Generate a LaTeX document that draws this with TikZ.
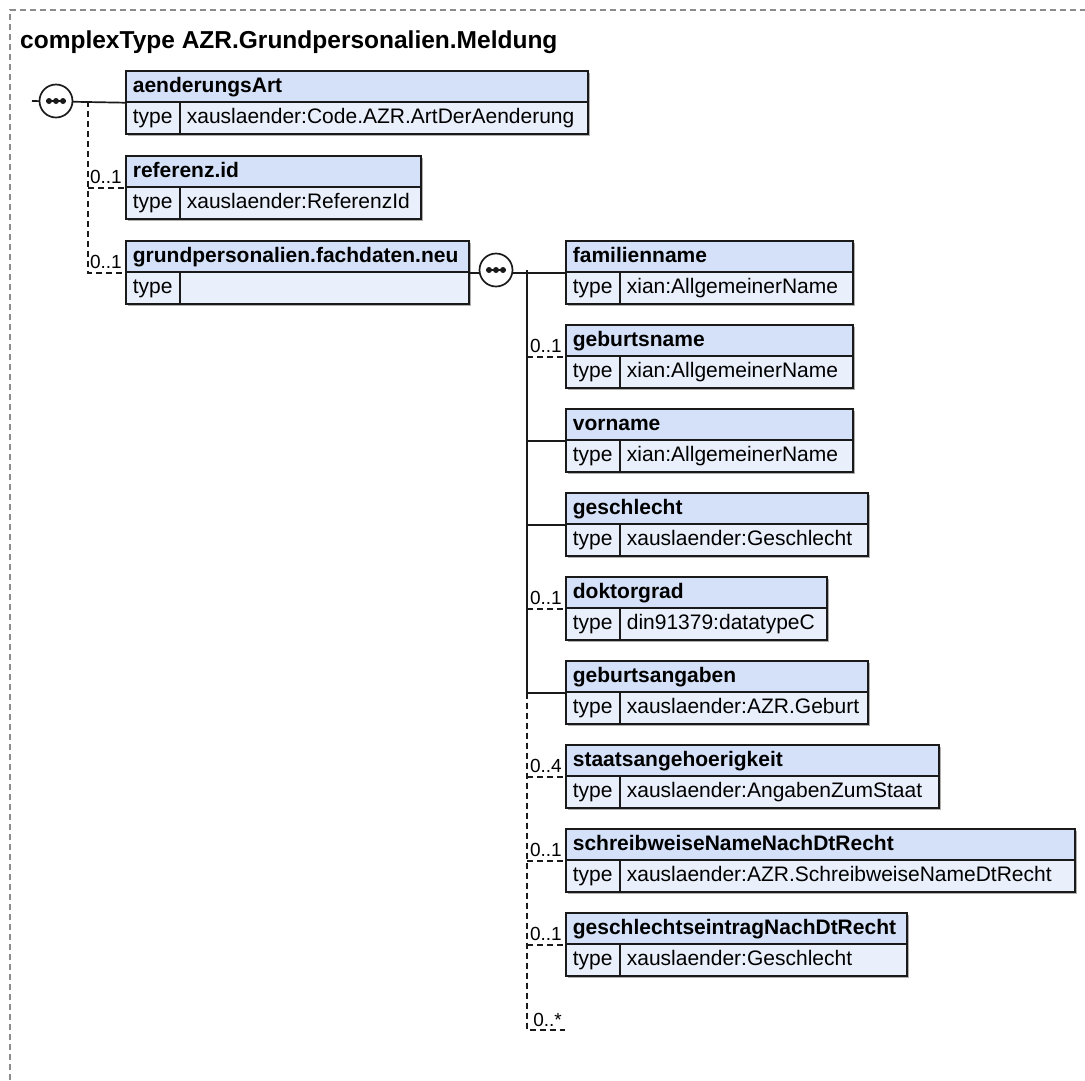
\documentclass[tikz,border=0pt]{standalone}
\usepackage{fontspec}
\setmainfont{Liberation Sans}
\usetikzlibrary{calc}
\definecolor{hdrc}{HTML}{D4E1F8}
\definecolor{rowc}{HTML}{E9EFFB}
\definecolor{linec}{HTML}{1A1A1A}
\definecolor{framec}{HTML}{8C8C8C}
\definecolor{shadc}{HTML}{B0B0B0}
\tikzset{
  x=1pt, y=-1pt,
  boxtext/.style={font=\fontsize{21}{24}\selectfont},
  hdr/.style={draw=linec, line width=1.7pt, fill=hdrc, anchor=north west, inner xsep=7pt, inner ysep=0pt,
    minimum height=31pt, text height=15.5pt, text depth=4pt, align=left, font=\bfseries\fontsize{21}{24}\selectfont},
  trow/.style={draw=linec, line width=1.7pt, fill=rowc, anchor=north west, inner xsep=7pt, inner ysep=0pt,
    minimum height=32pt, text height=15.5pt, text depth=4pt, align=left, boxtext},
  conn/.style={draw=linec, line width=1.7pt},
  optconn/.style={draw=linec, line width=1.7pt, dash pattern=on 6pt off 4pt},
  seq/.style={circle, draw=linec, line width=1.7pt, fill=white, minimum size=33pt, inner sep=0pt},
  card/.style={anchor=base east, inner sep=0pt, font=\fontsize{19}{22}\selectfont},
}
\newcommand\elbox[6]{%
  \pgfmathsetmacro\bw{#4-14}%
  \pgfmathsetmacro\vw{#4-54-14}%
  \fill[shadc] (#2+2.5,#3+2.5) rectangle (#2+#4+2.5,#3+63+2.5);
  \node[hdr, text width=\bw pt] (#1) at (#2,#3) {#5};
  \node[trow, text width=40pt] (#1t) at (#2,#3+31) {type};
  \node[trow, text width=\vw pt] (#1v) at (#2+54,#3+31) {#6};
}
\newcommand\seqdots[1]{%
  \draw[linec, line width=1.7pt] ($(#1.center)+(-10,0)$) -- ($(#1.center)+(10,0)$);
  \foreach \dx in {-7,0,7} \fill[linec] ($(#1.center)+(\dx,0)$) circle (3pt);
}
\begin{document}
\begin{tikzpicture}
\useasboundingbox (0,0) rectangle (1085,1080);
\draw[framec, line width=1.2pt, dash pattern=on 6pt off 4pt] (10,1080) -- (10,10) -- (1085,10);
\node[anchor=base west, inner sep=0pt, font=\bfseries\fontsize{24.5}{28}\selectfont] (title) at (20,48) {complexType AZR.Grundpersonalien.Meldung};

% top level elements
\elbox{a}{125}{70}{462}{aenderungsArt}{xauslaender:Code.AZR.ArtDerAenderung}
\elbox{b}{125}{155}{295}{referenz.id}{xauslaender:ReferenzId}
\elbox{c}{125}{240}{343}{grundpersonalien.fachdaten.neu}{}

% children
\elbox{d1}{565}{240}{287}{familienname}{xian:AllgemeinerName}
\elbox{d2}{565}{324}{287}{geburtsname}{xian:AllgemeinerName}
\elbox{d3}{565}{408}{287}{vorname}{xian:AllgemeinerName}
\elbox{d4}{565}{492}{302}{geschlecht}{xauslaender:Geschlecht}
\elbox{d5}{565}{576}{261}{doktorgrad}{din91379:datatypeC}
\elbox{d6}{565}{660}{302}{geburtsangaben}{xauslaender:AZR.Geburt}
\elbox{d7}{565}{744}{373}{staatsangehoerigkeit}{xauslaender:AngabenZumStaat}
\elbox{d8}{565}{828}{509}{schreibweiseNameNachDtRecht}{xauslaender:AZR.SchreibweiseNameDtRecht}
\elbox{d9}{565}{912}{341}{geschlechtseintragNachDtRecht}{xauslaender:Geschlecht}

% first sequence
\coordinate (in1) at (32,101);
\coordinate (j1) at (88,101);
\draw[conn] (in1) -- (a.south west);
\node[seq] (s1) at (56,101) {};
\seqdots{s1}
\draw[optconn] (j1) -- (j1 |- c.south west) -- (c.south west);
\draw[optconn] (j1 |- b.south west) -- (b.south west);
\node[card] (cb) at ($(b.south west)+(-3,-4)$) {0..1};
\node[card] (cc) at ($(c.south west)+(-3,-4)$) {0..1};

% second sequence
\coordinate (j2) at (527,270);
\draw[conn] (c.south east) -- (d1.south west);
\node[seq] (s2) at (496,270) {};
\seqdots{s2}
\draw[conn] (j2) -- (j2 |- d6.south west) -- (d6.south west);
\draw[conn] (j2 |- d3.south west) -- (d3.south west);
\draw[conn] (j2 |- d4.south west) -- (d4.south west);
\draw[optconn] (j2 |- d2.south west) -- (d2.south west);
\draw[optconn] (j2 |- d5.south west) -- (d5.south west);
\coordinate (anyend) at (565,1030);
\draw[optconn] (j2 |- d6.south west) -- (j2 |- anyend) -- (anyend);
\draw[optconn] (j2 |- d7.south west) -- (d7.south west);
\draw[optconn] (j2 |- d8.south west) -- (d8.south west);
\draw[optconn] (j2 |- d9.south west) -- (d9.south west);
\node[card] (c2) at ($(d2.south west)+(-3,-4)$) {0..1};
\node[card] (c5) at ($(d5.south west)+(-3,-4)$) {0..1};
\node[card] (c7) at ($(d7.south west)+(-3,-4)$) {0..4};
\node[card] (c8) at ($(d8.south west)+(-3,-4)$) {0..1};
\node[card] (c9) at ($(d9.south west)+(-3,-4)$) {0..1};
\node[card] (cany) at ($(anyend)+(-3,-4)$) {0..*};
\end{tikzpicture}
\end{document}
